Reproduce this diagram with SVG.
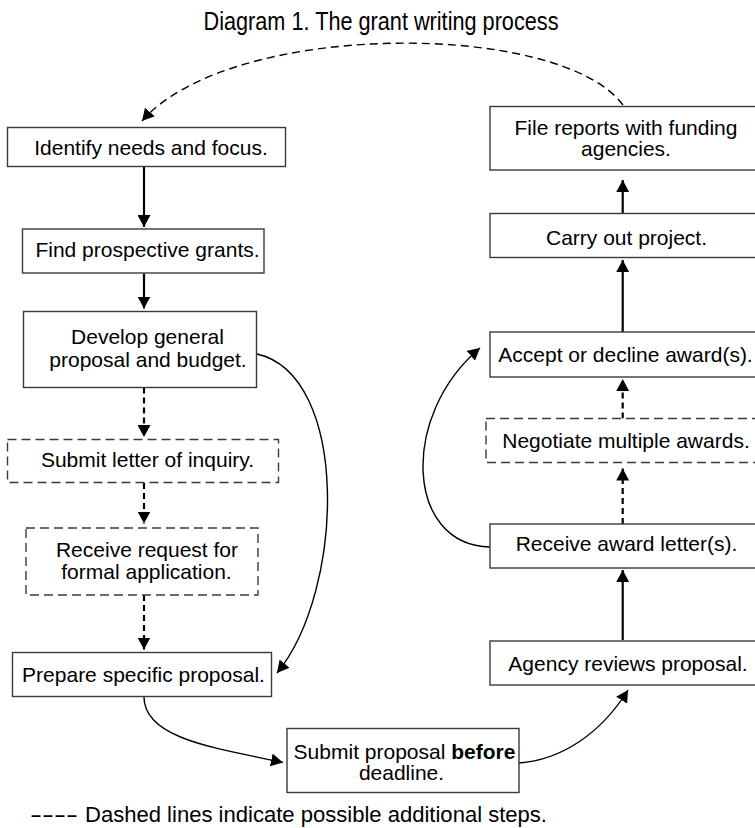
<svg xmlns="http://www.w3.org/2000/svg" width="755" height="828" viewBox="0 0 755 828">
<style>
text{font-family:"Liberation Sans",Arial,sans-serif;font-size:21px;fill:#000;text-anchor:middle}
.box{fill:#fff;stroke:#3a3a3a;stroke-width:1.4}
.dbox{fill:#fff;stroke:#3a3a3a;stroke-width:1.4;stroke-dasharray:9 5}
.sa{fill:none;stroke:#000;stroke-width:2.2}
.da{fill:none;stroke:#000;stroke-width:2.2;stroke-dasharray:6 4}
.cv{fill:none;stroke:#000;stroke-width:1.4}
.dc{fill:none;stroke:#000;stroke-width:1.4;stroke-dasharray:8 5}
</style>
<defs>
<marker id="ah" markerUnits="userSpaceOnUse" markerWidth="13" markerHeight="13" refX="12" refY="6.5" orient="auto">
<path d="M0,0 L12,6.5 L0,13 z" fill="#000"/>
</marker>
</defs>
<text x="203.5" y="29.5" style="text-anchor:start;font-size:26px" textLength="355" lengthAdjust="spacingAndGlyphs">Diagram 1. The grant writing process</text>
<g id="connectors">
<path class="dc" d="M623,105 C560,20 230,20 142,121" marker-end="url(#ah)"/>
<path class="sa" d="M144,167 L144,227" marker-end="url(#ah)"/>
<path class="sa" d="M144,273.5 L144,308.5" marker-end="url(#ah)"/>
<path class="da" d="M144,387.5 L144,437" marker-end="url(#ah)"/>
<path class="da" d="M144,483 L144,523.5" marker-end="url(#ah)"/>
<path class="da" d="M144,595 L144,649.5" marker-end="url(#ah)"/>
<path class="cv" d="M257,354 C350,375 345,590 277,673" marker-end="url(#ah)"/>
<path class="cv" d="M144,697 C144,740 222,749 283,762.5" marker-end="url(#ah)"/>
<path class="cv" d="M519,763 C560,760 600,735 628,690" marker-end="url(#ah)"/>
<path class="sa" d="M622.7,640 L622.7,570" marker-end="url(#ah)"/>
<path class="da" d="M622.7,524 L622.7,468.5" marker-end="url(#ah)"/>
<path class="da" d="M622.7,418.5 L622.7,379" marker-end="url(#ah)"/>
<path class="cv" d="M490,547 C405,545 400,415 480,348" marker-end="url(#ah)"/>
<path class="sa" d="M622.7,332 L622.7,260" marker-end="url(#ah)"/>
<path class="sa" d="M622.7,213.5 L622.7,180" marker-end="url(#ah)"/>
</g>
<g id="identify"><rect class="box" x="7.5" y="127.5" width="278" height="39"/><text x="151" y="155">Identify needs and focus.</text></g>
<g id="find"><rect class="box" x="22.5" y="229" width="241.5" height="44"/><text x="147.5" y="256.5">Find prospective grants.</text></g>
<g id="develop"><rect class="box" x="23.5" y="311.5" width="233" height="76"/><text x="147.5" y="344">Develop general</text><text x="148" y="366.5">proposal and budget.</text></g>
<g id="letter"><rect class="dbox" x="7.5" y="439.5" width="271" height="43"/><text x="147.5" y="467">Submit letter of inquiry.</text></g>
<g id="request"><rect class="dbox" x="26" y="528" width="232" height="67"/><text x="147" y="556.5">Receive request for</text><text x="146.5" y="579">formal application.</text></g>
<g id="prepare"><rect class="box" x="12.5" y="652.5" width="259" height="44"/><text x="143.5" y="682">Prepare specific proposal.</text></g>
<g id="submit"><rect class="box" x="287" y="728.5" width="232" height="64"/><text x="404.5" y="758.5">Submit proposal <tspan font-weight="bold">before</tspan></text><text x="401.5" y="780">deadline.</text></g>
<g id="agency"><rect class="box" x="490" y="641" width="266" height="44"/><text x="628" y="670.5">Agency reviews proposal.</text></g>
<g id="receive"><rect class="box" x="490" y="524" width="266" height="44"/><text x="626.5" y="550.5">Receive award letter(s).</text></g>
<g id="negotiate"><rect class="dbox" x="486" y="418.5" width="270" height="44"/><text x="626" y="448">Negotiate multiple awards.</text></g>
<g id="accept"><rect class="box" x="490" y="332" width="266" height="45"/><text x="625.5" y="361.5">Accept or decline award(s).</text></g>
<g id="carry"><rect class="box" x="490" y="213.5" width="266" height="44"/><text x="626.5" y="245">Carry out project.</text></g>
<g id="file"><rect class="box" x="490" y="106.5" width="266" height="63.5"/><text x="626" y="135">File reports with funding</text><text x="626" y="156">agencies.</text></g>
<g id="legend"><text x="30" y="821.5" style="text-anchor:start;font-size:22px" textLength="48" lengthAdjust="spacingAndGlyphs">----</text><text x="85" y="821.5" style="text-anchor:start;font-size:22px" textLength="462" lengthAdjust="spacingAndGlyphs">Dashed lines indicate possible additional steps.</text></g>
</svg>
